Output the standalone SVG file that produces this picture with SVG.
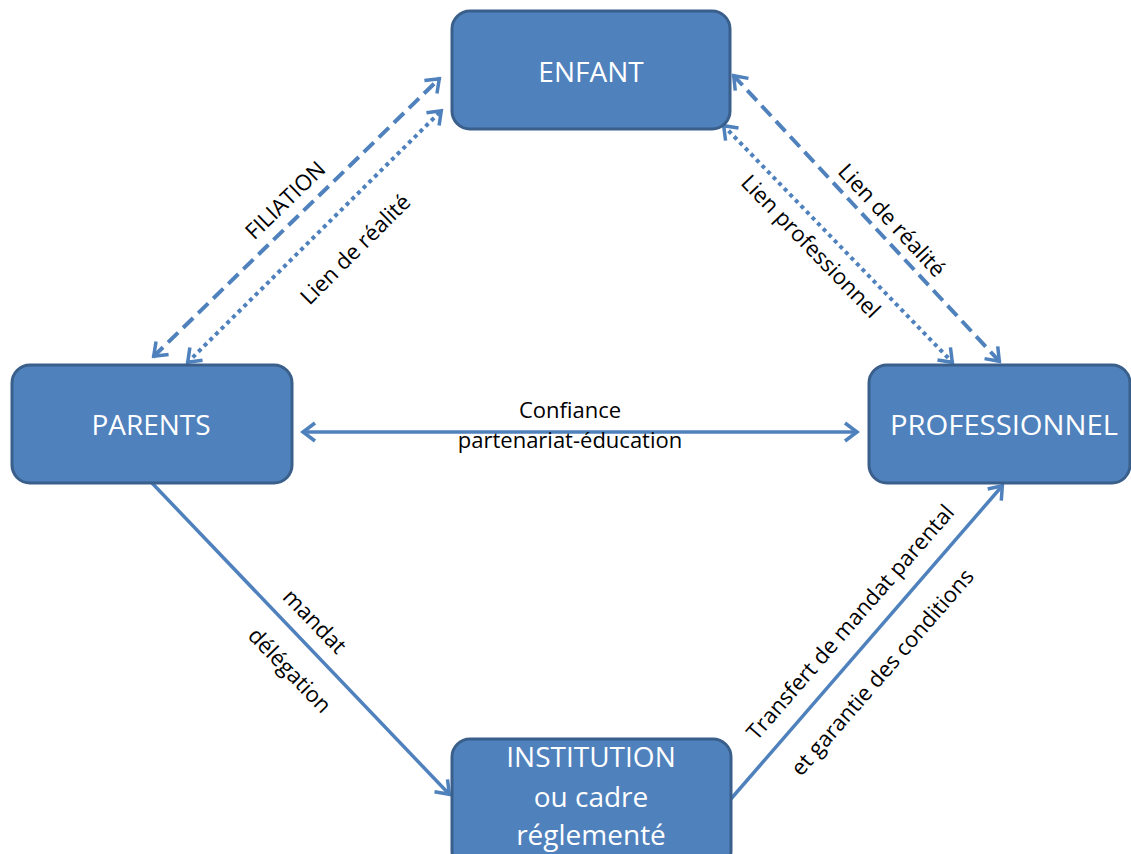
<svg xmlns="http://www.w3.org/2000/svg" width="1131" height="854" viewBox="0 0 1131 854">
<style>
.box{fill:#4F81BD;stroke:#3A5F8B;stroke-width:3}
.nt{font-family:"Open Sans","Liberation Sans",sans-serif;font-size:28px;fill:#fff;text-anchor:middle}
.lt{font-family:"Open Sans","Liberation Sans",sans-serif;font-size:22px;fill:#000;text-anchor:middle}
.cn{stroke:#4F81BD;stroke-width:3.5;fill:none}
.dash{stroke-width:4;stroke-dasharray:14 7}
.dot{stroke-width:4;stroke-dasharray:4 4}
</style>
<defs>
<marker id="ah" viewBox="-16 -12 18 24" refX="0" refY="0" markerWidth="18" markerHeight="24" markerUnits="userSpaceOnUse" orient="auto-start-reverse">
<path d="M-13,-9 L-1,0 L-13,9" fill="none" stroke="#4F81BD" stroke-width="3.5" stroke-dasharray="none"/>
</marker>
</defs>
<rect width="1131" height="854" fill="#fff"/>
<g id="connectors">
<line class="cn dash" x1="153" y1="357" x2="440" y2="78" marker-start="url(#ah)" marker-end="url(#ah)"/>
<line class="cn dot" x1="187" y1="363" x2="442" y2="110" marker-start="url(#ah)" marker-end="url(#ah)"/>
<line class="cn dash" x1="733" y1="75" x2="1000" y2="362" marker-start="url(#ah)" marker-end="url(#ah)"/>
<line class="cn dot" x1="723" y1="125" x2="953" y2="363" marker-start="url(#ah)" marker-end="url(#ah)"/>
<line class="cn" x1="302" y1="432" x2="858" y2="432" marker-start="url(#ah)" marker-end="url(#ah)"/>
<line class="cn" x1="152" y1="483" x2="450" y2="795" marker-end="url(#ah)"/>
<line class="cn" x1="730" y1="800" x2="1003" y2="485" marker-end="url(#ah)"/>
<text class="lt" transform="translate(285,200) rotate(-44)" y="8">FILIATION</text>
<text class="lt" transform="translate(355,249) rotate(-45)" y="8">Lien de réalité</text>
<text class="lt" transform="translate(892,220) rotate(47)" y="8">Lien de réalité</text>
<text class="lt" transform="translate(811,246) rotate(46)" y="8">Lien professionnel</text>
<text class="lt" x="570" y="418">Confiance</text>
<text class="lt" x="570" y="448">partenariat-éducation</text>
<text class="lt" transform="translate(315,621) rotate(46)" y="8">mandat</text>
<text class="lt" transform="translate(290,670) rotate(46)" y="8">délégation</text>
<text class="lt" transform="translate(850,622) rotate(-49)" y="8">Transfert de mandat parental</text>
<text class="lt" transform="translate(882,672) rotate(-49)" y="8">et garantie des conditions</text>
</g>
<g id="enfant">
<rect class="box" x="452" y="11" width="278" height="118" rx="18"/>
<text class="nt" x="591" y="82">ENFANT</text>
</g>
<g id="parents">
<rect class="box" x="12" y="365" width="280" height="118" rx="18"/>
<text class="nt" x="151" y="435">PARENTS</text>
</g>
<g id="professionnel">
<rect class="box" x="869" y="365" width="261" height="118" rx="18"/>
<text class="nt" x="1004" y="435" textLength="228" lengthAdjust="spacingAndGlyphs">PROFESSIONNEL</text>
</g>
<g id="institution">
<rect class="box" x="452" y="739" width="279" height="130" rx="18"/>
<text class="nt" x="591" y="767">INSTITUTION</text>
<text class="nt" x="591" y="807">ou cadre</text>
<text class="nt" x="591" y="845">réglementé</text>
</g>
</svg>
